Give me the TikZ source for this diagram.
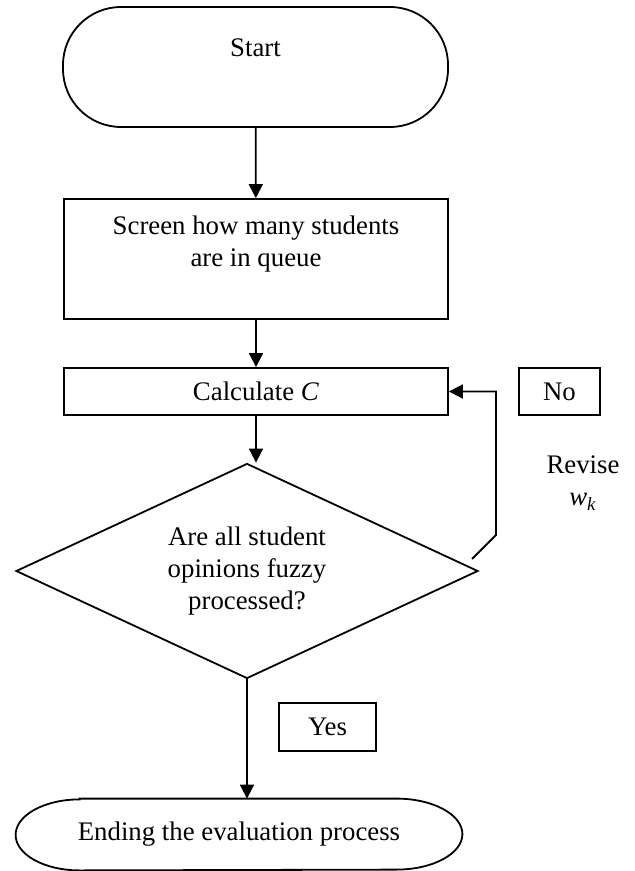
\documentclass[tikz,border=0pt]{standalone}
\usepackage{fontspec}
\setmainfont{Liberation Serif}
\usetikzlibrary{shapes.geometric,arrows.meta}
\tikzset{
  every node/.style={font=\fontsize{13.4}{16}\selectfont},
  proc/.style={draw, rectangle, line width=0.9pt, inner sep=2pt, align=center},
  term/.style={proc, rounded corners=29pt},
  decide/.style={draw, diamond, line width=0.9pt, inner sep=0pt, aspect=2.15, align=center},
  tag/.style={draw, rectangle, line width=0.9pt, inner sep=2pt},
  flow/.style={-{Triangle[length=7pt,width=7pt]}, line width=0.9pt}
}

\begin{document}
\begin{tikzpicture}[x=0.5pt, y=-0.5pt]
  \useasboundingbox (0,0) rectangle (634,871);

  \node (start) [term, minimum width=192.5pt, minimum height=60pt, text depth=19pt] at (255.5,67) {Start};
  \node (screen) [proc, minimum width=192pt, minimum height=60pt, text depth=18pt] at (256,259) {Screen how many students\\are in queue};
  \node (calc) [proc, minimum width=192pt, minimum height=23.5pt] at (256,391.5) {Calculate \textit{C}};
  \node (no) [tag, minimum width=40.5pt, minimum height=23.5pt] at (559.5,391.5) {No};
  \node (revise) [align=center] at (583,483) {Revise\\\textit{w}\textsubscript{\textit{k}}};
  \node (check) [decide, minimum width=231pt, minimum height=107.5pt] at (247,571) {Are all student\\opinions fuzzy\\processed?};
  \node (yes) [tag, minimum width=48.5pt, minimum height=24pt] at (327.5,727) {Yes};
  \node (finish) [minimum width=223pt, minimum height=35.5pt] at (239,834.5) {Ending the evaluation process};

  % elliptic ends of the last box
  \draw [line width=0.9pt] ([xshift=32pt]finish.north west) -- ([xshift=-33pt]finish.north east)
    arc[start angle=90, end angle=-90, x radius=33pt, y radius=17.75pt]
    -- ([xshift=32pt]finish.south west)
    arc[start angle=270, end angle=90, x radius=32pt, y radius=17.75pt] -- cycle;

  \coordinate (back) at (472,559);

  \draw [flow] (start) to (screen);
  \draw [flow] (screen) to (calc);
  \draw [flow] (calc) to (calc.south |- check.north);
  \draw [flow] (check) to (check.south |- finish.north);
  \draw [flow] (back) -- ++(24,-24) |- (calc.east);
\end{tikzpicture}
\end{document}
